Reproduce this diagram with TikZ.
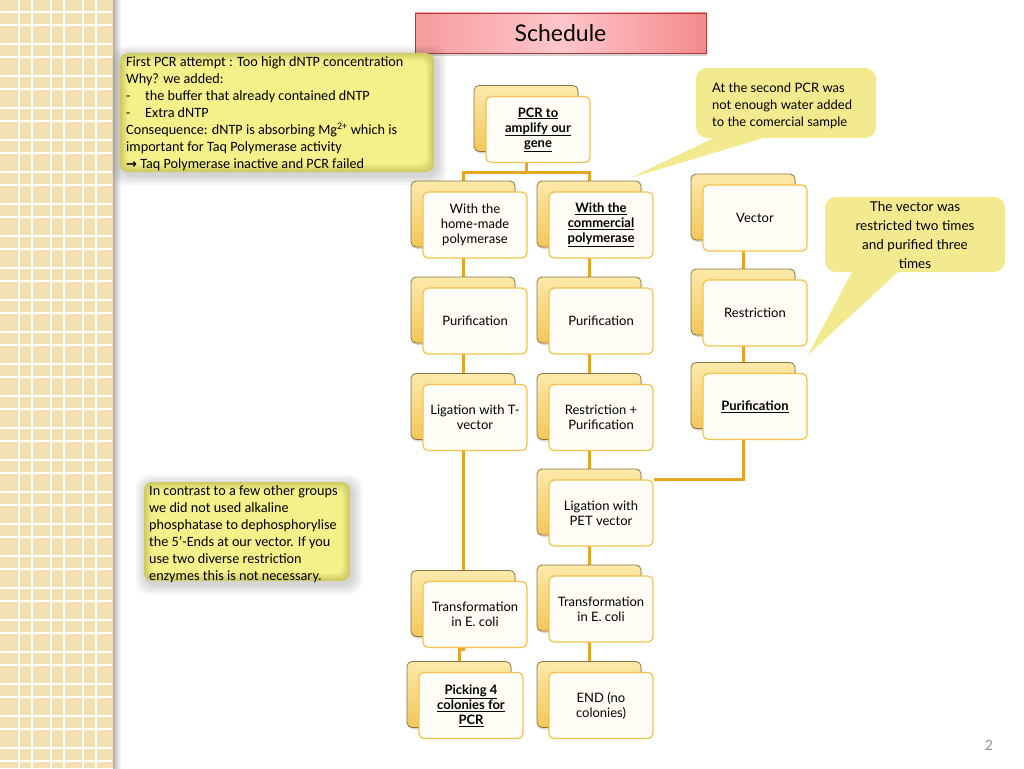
\documentclass[tikz,border=0pt]{standalone}
\usepackage{fontspec}
\setmainfont{Lato}
\newfontfamily\notefont{Carlito}
\newfontfamily\symfont{DejaVu Sans}
\usetikzlibrary{shadows,calc}
\pgfdeclarelayer{bg}
\pgfsetlayers{bg,main}
\definecolor{strip}{HTML}{F2DFB2}
\definecolor{connc}{HTML}{E6A522}
\definecolor{frontdraw}{HTML}{F4C24A}
\definecolor{frontfill}{HTML}{FFFDF6}
\definecolor{backtop}{HTML}{FCE9AA}
\definecolor{backbot}{HTML}{F2C75A}
\definecolor{backdraw}{HTML}{8C7440}
\definecolor{calloutc}{HTML}{F3E98E}
\definecolor{notefill}{HTML}{F4F08A}
\definecolor{noteedge}{HTML}{CFCB62}
\definecolor{titlered}{HTML}{F48A8C}
\definecolor{titlelight}{HTML}{FFC6CA}
\definecolor{titledraw}{HTML}{B23A3A}
\tikzset{
  frontbox/.style={draw=frontdraw, line width=1.2pt, fill=frontfill, rounded corners=5pt,
    minimum width=104pt, minimum height=66pt, align=center, inner sep=0pt,
    font=\fontsize{13}{15}\selectfont},
  backbox/.style={draw=backdraw, line width=0.8pt, top color=backtop, bottom color=backbot,
    rounded corners=5pt, minimum width=104pt, minimum height=66pt,
    drop shadow={shadow xshift=1pt, shadow yshift=-2pt, opacity=0.3}},
  connline/.style={draw=connc, line width=3pt},
  calloutshape/.style={fill=calloutc},
  notetext/.style={anchor=base west, align=left, inner sep=0pt, font=\notefont\fontsize{14.2}{17}\selectfont},
  callouttext/.style={inner sep=0pt, font=\fontsize{13}{17}\selectfont}
}
\newcommand\stage[4]{%
  \node[backbox] (#1-b) at (#2-12,#3-11) {};
  \node[frontbox] (#1) at (#2,#3) {#4};}
\newcommand\glowbox[4]{%
  \foreach \i in {10,8,6,4,2} {\fill[black, opacity=0.035, rounded corners=12pt] (#1-\i+2,#2-\i+3) rectangle (#3+\i+2,#4+\i+3);}
  \foreach \j/\m in {0/100,1/80,2/60,3/40,4/20,5/0} {\fill[noteedge!\m!notefill, rounded corners=8pt] (#1+\j*1.5,#2+\j*1.5) rectangle (#3-\j*1.5,#4-\j*1.5);}
}
\newcommand\ulb[1]{\textbf{\underline{#1}}}
\begin{document}
\begin{tikzpicture}[x=1pt,y=-1pt]
\useasboundingbox (0,0) rectangle (1024,768);
% left strip
\fill[strip] (0,0) rectangle (112,768);
\foreach \k in {0,32,...,96} {
  \draw[white, line width=1.6pt] (19+\k,0) -- (19+\k,768);
  \draw[white, line width=1.6pt] (32+\k,0) -- (32+\k,768);}
\foreach \k in {0,32,...,768} {
  \draw[white, line width=1.6pt] (0,12+\k) -- (112,12+\k);
  \draw[white, line width=1.6pt] (0,25+\k) -- (112,25+\k);}
\fill[strip] (112,0) rectangle (115,768);
\shade[left color=black!30, right color=white] (113,0) rectangle (121,768);
% title
\node[draw=titledraw, line width=0.8pt, left color=titlered!85, right color=titlered, middle color=titlelight,
  minimum width=291pt, minimum height=40pt, drop shadow={shadow xshift=1pt, shadow yshift=-3pt, opacity=0.35},
  font=\fontsize{23}{26}\selectfont] (title) at (560.5,33) {Schedule};
% notes
\glowbox{120}{53}{434}{172}
\node[notetext] (note1) at (126,168.5) {First PCR attempt : Too high dNTP concentration\\
Why? we added:\\
\makebox[19pt][l]{-}the buffer that already contained dNTP\\
\makebox[19pt][l]{-}Extra dNTP\\
Consequence: dNTP is absorbing Mg\textsuperscript{2+} which is\\
important for Taq Polymerase activity\\
{\symfont\bfseries\fontsize{13}{17}\selectfont →} Taq Polymerase inactive and PCR failed};
\glowbox{144}{482}{350}{581}
\node[notetext] (note2) at (149,580.5) {In contrast to a few other groups\\
we did not used alkaline\\
phosphatase to dephosphorylise\\
the 5’-Ends at our vector. If you\\
use two diverse restriction\\
enzymes this is not necessary.};
% callouts
\fill[calloutshape, rounded corners=11pt] (696,68) rectangle (876,138);
\fill[calloutshape] (718,136) -- (630,178) -- (770,136) -- cycle;
\node[callouttext, anchor=base west, align=left] (call1) at (712,126.5) {At the second PCR was\\not enough water added\\to the comercial sample};
\fill[calloutshape, rounded corners=11pt] (825,197) rectangle (1005,272);
\fill[calloutshape] (853,270) -- (808,355) -- (900,270) -- cycle;
\node[callouttext, align=center, font=\fontsize{13.5}{19}\selectfont] (call2) at (915,235.5) {The vector was\\restricted two times\\and purified three\\times};
% stages
\stage{pcr}{538}{129.5}{\ulb{PCR to}\\\ulb{amplify our}\\\ulb{gene}}
\stage{home}{475}{225}{With the\\home-made\\polymerase}
\stage{comm}{601}{225}{\ulb{With the}\\\ulb{commercial}\\\ulb{polymerase}}
\stage{vec}{755}{218}{Vector}
\stage{pura}{475}{321}{Purification}
\stage{purb}{601}{321}{Purification}
\stage{res}{755}{313}{Restriction}
\stage{liga}{475}{417.5}{Ligation with T-\\vector}
\stage{resp}{601}{417.5}{Restriction +\\Purification}
\stage{purc}{755}{406.5}{\ulb{Purification}}
\stage{ligpet}{601}{513}{Ligation with\\PET vector}
\stage{transa}{475}{614.5}{Transformation\\in E. coli}
\stage{transb}{601}{609}{Transformation\\in E. coli}
\stage{pick}{471}{705.5}{\ulb{Picking 4}\\\ulb{colonies for}\\\ulb{PCR}}
\stage{endn}{601}{705.5}{END (no\\colonies)}
% connectors
\begin{pgfonlayer}{bg}
\coordinate (split) at ($(pcr-b.center)+(0,54)$);
\draw[connline] (pcr-b.center) -- (split);
\draw[connline] (home-b.center) |- (split) -| (comm-b.center);
\draw[connline] (home-b.center) -- (pura-b.center) -- (liga-b.center) -- (transa-b.center);
\coordinate (jog) at ($(transa-b.center)+(0,46)$);
\draw[connline] (transa-b.center) -- (jog) -| (pick-b.center);
\draw[connline] (comm-b.center) -- (purb-b.center) -- (resp-b.center) -- (ligpet-b.center) -- (transb-b.center) -- (endn-b.center);
\draw[connline] (vec-b.center) -- (res-b.center) -- (purc-b.center) |- (ligpet.north east);
\end{pgfonlayer}
% page number
\node[text=black!45, font=\fontsize{14}{16}\selectfont] (pagenum) at (989,745) {2};
\end{tikzpicture}
\end{document}
